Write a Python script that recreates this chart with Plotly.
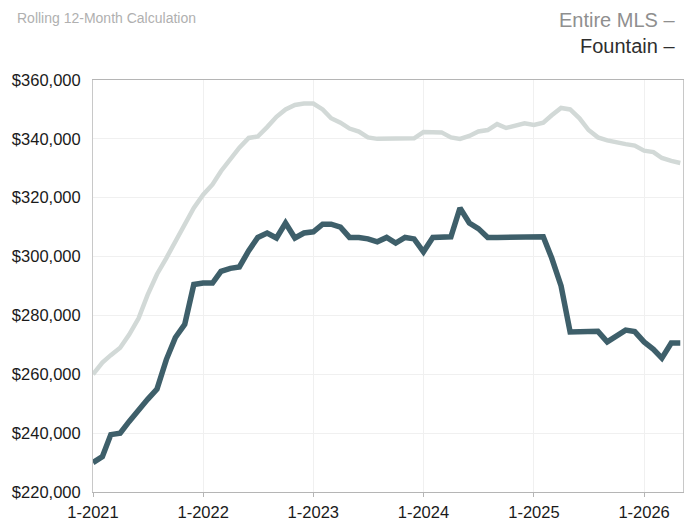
import plotly.graph_objects as go
import pandas as pd

months = pd.date_range("2021-01-01", periods=65, freq="MS")

fountain = [230, 232, 239.5, 240, 244, 248, 251.5, 255, 265, 272.5, 277, 290.5,
            291, 291, 295, 296, 296.5, 302, 306.5, 308, 306.3, 311.4, 306.3, 308,
            308.4, 311, 311, 310, 306.5, 306.5, 306, 305, 306.5, 304.6, 306.5, 306,
            301.6, 306.5, 306.5, 306.7, 316.5, 311.4, 309.5, 306.5, 306.5, 306.5, 306.3, 306.7,
            306.7, 306.7, 299.5, 290, 274.4, 274.4, 274.4, 274.6, 271, 273, 275, 274.5,
            271, 268.5, 265.5, 270.6, 270.6]
fountain = [v * 1000 for v in fountain]

entire_mls = [260, 264, 266.5, 269, 273.5, 279, 287, 294, 299.5, 305, 311, 316.5,
              321, 324.5, 329, 333, 337, 340.3, 340.8, 344, 347.5, 350, 351.5, 352,
              352, 350, 347, 345.5, 343.5, 342.5, 340.5, 340, 340, 340, 340, 340.2,
              342.3, 342.3, 342.2, 340.5, 340, 341, 342.5, 343, 345, 343.7, 344.5, 345.3,
              344.7, 345.5, 348, 350.5, 350, 347, 343, 340.5, 339.5, 338.7, 338.2, 337.7,
              336, 335.5, 333.5, 332.5, 331.8]
entire_mls = [v * 1000 for v in entire_mls]

y_ticks = [220000, 240000, 260000, 280000, 300000, 320000, 340000, 360000]
y_tick_labels = ["$220,000", "$240,000", "$260,000", "$280,000", "$300,000",
                 "$320,000", "$340,000", "$360,000"]
x_ticks = ["2021-01-01", "2022-01-01", "2023-01-01", "2024-01-01", "2025-01-01", "2026-01-01"]
x_tick_labels = ["1-2021", "1-2022", "1-2023", "1-2024", "1-2025", "1-2026"]

light = "#d2d9d7"
dark = "#3e5f6a"

fig = go.Figure()
fig.add_trace(go.Scatter(x=months, y=entire_mls, mode="lines", name="Entire MLS",
                         line=dict(color=light, width=4.5)))
fig.add_trace(go.Scatter(x=months, y=fountain, mode="lines", name="Fountain",
                         line=dict(color=dark, width=5.5)))

fig.update_layout(
    width=686, height=514,
    margin=dict(l=85, r=11, t=72, b=30),
    paper_bgcolor="white", plot_bgcolor="white",
    showlegend=False,
    font=dict(family="Liberation Sans, Arial, sans-serif", color="#222"),
)
fig.update_xaxes(
    range=["2021-01-01", "2026-05-10"],
    tickvals=x_ticks, ticktext=x_tick_labels,
    tickfont=dict(size=16.5, color="#1a1a1a"),
    showgrid=True, gridcolor="#f0f0f0", gridwidth=1,
    showline=True, linecolor="#b5b5b5", linewidth=1, mirror=True,
    ticks="outside", ticklen=4, tickcolor="#b5b5b5",
    ticklabelstandoff=1, automargin=False,
    zeroline=False,
)
fig.update_yaxes(
    range=[220000, 360000],
    tickvals=y_ticks, ticktext=y_tick_labels,
    tickfont=dict(size=16.5, color="#1a1a1a"),
    showgrid=True, gridcolor="#f0f0f0", gridwidth=1,
    showline=True, linecolor="#c8c8c8", linewidth=1, mirror=True,
    ticks="", ticklabelstandoff=8, automargin=False,
    zeroline=False,
)

fig.add_annotation(text="Rolling 12-Month Calculation", xref="paper", yref="paper",
                   x=-0.132, y=1.1748, xanchor="left", yanchor="top", showarrow=False,
                   font=dict(size=14, color="#b0b0b0"))
fig.add_annotation(text="Entire MLS \u2013", xref="paper", yref="paper",
                   x=0.988, y=1.1748, xanchor="right", yanchor="top", showarrow=False,
                   borderpad=0, font=dict(size=20, color="#8f8f8f"))
fig.add_annotation(text="Fountain \u2013", xref="paper", yref="paper",
                   x=0.988, y=1.0825, xanchor="right", yanchor="middle", showarrow=False,
                   borderpad=0, font=dict(size=20, color="#2e2e2e"))

fig.write_html("out.html")
